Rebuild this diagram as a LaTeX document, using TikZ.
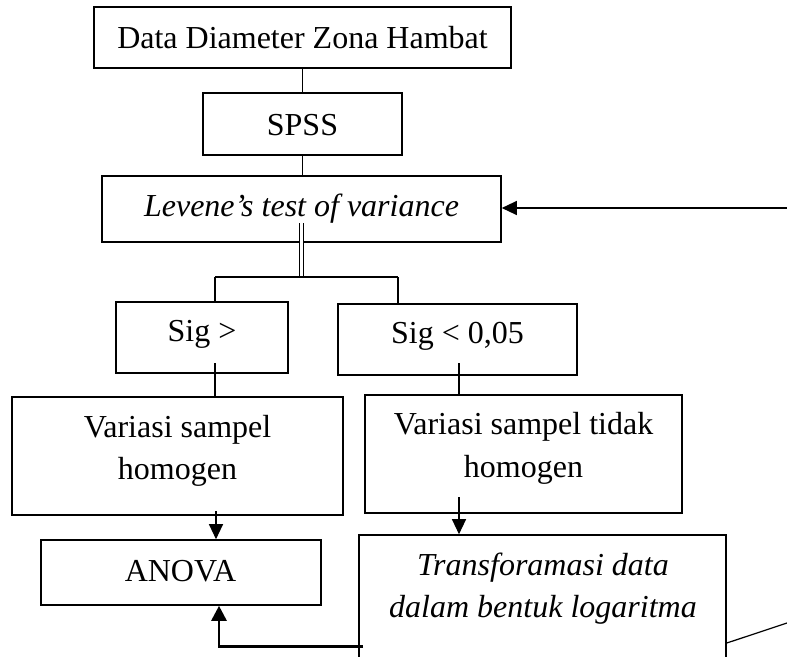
\documentclass[tikz,border=0pt]{standalone}
\usepackage{fontspec}
\setmainfont{Liberation Serif}
\usetikzlibrary{arrows.meta}
\begin{document}
\begin{tikzpicture}[x=1pt,y=-1pt,
  box/.style={draw,line width=1.6pt,inner sep=0pt,rectangle},
  txt/.style={anchor=base,inner sep=0pt,font=\fontsize{32}{38}\selectfont},
  itxt/.style={txt,font=\fontsize{32}{38}\selectfont\itshape},
  conn/.style={line width=1.2pt},
  arr/.style={line width=1.2pt,-{Triangle[length=15pt,width=14pt]}},
  thickarr/.style={line width=2.8pt,-{Triangle[length=15pt,width=15pt]}},
  dbl/.style={double,double distance=3pt,line width=1pt}]
\useasboundingbox (0,0) rectangle (787,656);
\clip (0,0) rectangle (787,656);
% boxes (minimum width x minimum height at center)
\node[box,minimum width=417pt,minimum height=61pt] (b1) at (302.5,37.5) {};
\node[box,minimum width=199pt,minimum height=62pt] (b2) at (302.5,124) {};
\node[box,minimum width=399pt,minimum height=66pt] (b3) at (301.5,209) {};
\node[box,minimum width=172pt,minimum height=71pt] (b4) at (202,337.5) {};
\node[box,minimum width=239pt,minimum height=71pt] (b5) at (457.5,339.5) {};
\node[box,minimum width=331pt,minimum height=118pt] (b6) at (177.5,456) {};
\node[box,minimum width=317pt,minimum height=118pt] (b7) at (523.5,454) {};
\node[box,minimum width=280pt,minimum height=65pt] (b8) at (181,572.5) {};
\node[box,minimum width=367pt,minimum height=160pt] (b9) at (542.5,615) {};
% texts
\node[txt] (t1) at (302.5,48) {Data Diameter Zona Hambat};
\node[txt] (t2) at (302.5,135) {SPSS};
\node[itxt] (t3) at (301.5,216) {Levene’s test of variance};
\node[txt] (t4) at (202,341) {Sig >};
\node[txt] (t5) at (457.5,343) {Sig < 0,05};
\node[txt] (t6a) at (177.5,437) {Variasi sampel};
\node[txt] (t6b) at (177.5,479) {homogen};
\node[txt] (t7a) at (523.5,434) {Variasi sampel tidak};
\node[txt] (t7b) at (523.5,477) {homogen};
\node[txt] (t8) at (180.5,581) {ANOVA};
\node[itxt] (t9a) at (543,575) {Transforamasi data};
\node[itxt] (t9b) at (543,617) {dalam bentuk logaritma};
% helper coordinates
\coordinate (dtop) at (301,223);
\coordinate (fork) at (301,277);
\coordinate (fl) at (215,277);
\coordinate (fr) at (398,277);
\coordinate (s4in) at (215,363);
\coordinate (s5in) at (459,363);
\coordinate (s6in) at (216,511);
\coordinate (s7in) at (459,497);
\coordinate (rin) at (787,208);
\coordinate (bstart) at (363,646.5);
\coordinate (bcorner) at (219,646.5);
\coordinate (dend) at (787,623);
% connectors
\draw[conn] (b1.south) -- (b2.north);
\draw[conn] (b2.south) -- (b2.south |- b3.north);
\draw[dbl] (dtop) -- (fork);
\draw[conn] (fl) -- (fr);
\draw[conn] (fl) -- (fl |- b4.north);
\draw[conn] (fr) -- (fr |- b5.north);
\draw[conn] (s4in) -- (s4in |- b6.north);
\draw[conn] (s5in) -- (s5in |- b7.north);
\draw[arr] (s6in) -- (s6in |- b8.north);
\draw[arr] (s7in) -- (s7in |- b9.north);
\draw[arr] (rin) -- (b3.east |- rin);
\draw[thickarr] (bstart) -- (bcorner) -- (bcorner |- b8.south);
\draw[conn] (b9.east |- 0,643) -- (dend);
\end{tikzpicture}
\end{document}
